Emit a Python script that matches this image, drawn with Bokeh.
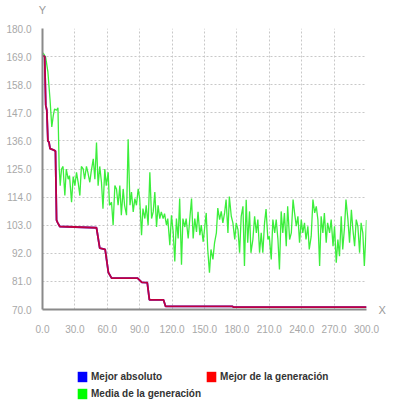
from bokeh.plotting import figure
from bokeh.models import (Range1d, FixedTicker, PrintfTickFormatter,
                          LinearAxis, Legend, LegendItem)
from bokeh.layouts import column
from bokeh.embed import file_html
from bokeh.resources import INLINE

# ---- data ----
x_ticks = [0, 30, 60, 90, 120, 150, 180, 210, 240, 270, 300]
y_ticks = [70, 81, 92, 103, 114, 125, 136, 147, 158, 169, 180]

# Mejor de la generacion (step-like)
best_gen = [0, 2, 3, 4, 5, 6, 7, 10, 12, 13, 14, 16, 50, 53, 58, 61, 64, 88,
            92, 97, 99, 112, 114, 176, 177, 300]
best_val = [169.4, 169, 150, 148, 136, 135.5, 133, 132.5, 132, 105, 104,
            102.5, 102, 94, 93.5, 84.5, 82.3, 82.3, 80.6, 80.5, 73.8, 73.8,
            71.2, 71.2, 70.9, 70.9]

# Mejor absoluto (same trajectory, drawn underneath)
abs_gen = [0, 2, 3, 4, 5, 6, 7, 10, 12, 13, 14, 16, 50, 53, 58, 61, 64, 88,
           92, 97, 99, 112, 114, 176, 177, 300]
abs_val = [169.4, 169, 150, 148, 136, 135.5, 133, 132.5, 132, 105, 104,
           102.5, 102, 94, 93.5, 84.5, 82.3, 82.3, 80.6, 80.5, 73.8, 73.8,
           71.2, 71.2, 70.9, 70.9]

# Media de la generacion, first half
media_gen_a = [0, 1.5, 3, 5, 7, 8.6, 10, 11.2, 13, 14.3, 15.4, 16.4, 17.6, 19,
               20.7, 22, 23.8, 25, 26.9, 28.4, 30, 31.5, 33, 34.6, 36, 37.7,
               39, 40.7, 42, 43.8, 45, 47, 48.5, 50, 51.5, 53, 54.6, 56, 57.7,
               59, 60.8, 62, 63.9, 65.4, 67, 68.5, 70, 71.6, 73, 74.7, 76,
               77.8, 79.3, 81, 82.4, 84, 85.5, 87, 88.6, 90, 91.7, 93, 94.8,
               96, 97.8, 99.4, 101, 102.5, 104, 105.6, 107, 108.6, 110, 111.7,
               113, 114.8, 116, 117.9, 119.4, 121, 122.5, 124, 125.6, 127,
               128.7, 130, 131.8, 133, 134.9, 136.4, 138, 139.5, 141, 142.6,
               144, 145.7, 147, 148.8]
media_val_a = [170.5, 169.8, 168.5, 163, 152, 141.5, 146, 148.5, 148, 149,
               126, 118.5, 125, 126, 114.6, 125, 121, 122.4, 112, 122, 118.5,
               123.7, 119.8, 114.6, 126, 125, 121, 126, 123.7, 119.8, 123.7,
               129, 121, 135.4, 118.5, 126, 119.8, 109.5, 125, 118.5, 123.7,
               110.8, 112, 103, 118.5, 117.2, 110.8, 118.5, 106.9, 117.2,
               110.8, 106.9, 136.6, 110.8, 116, 108.2, 113.4, 110.8, 117.2,
               113.4, 99.1, 109.5, 105.6, 110.8, 103, 123.7, 105.6, 108.2, 116,
               102.3, 110.8, 105.6, 108.2, 105.6, 107.5, 103, 105.6, 95.2,
               106.9, 100.4, 88.8, 105.6, 97.8, 113.4, 87.5, 105.6, 102.3,
               105.6, 97.8, 105.6, 113.4, 97.8, 105.6, 100.4, 108.2, 99.1, 103,
               96.5]

# Media de la generacion, second half
media_gen_b = [150, 151.6, 153, 154.6, 156, 157.8, 159.3, 161, 162.3, 164,
               165.5, 167, 168.6, 170, 171.7, 173, 174.8, 176.3, 178, 179.4,
               181, 182.5, 184, 185.6, 187, 188.6, 190, 191.7, 193, 194.8,
               196.4, 198, 199.4, 201, 202.5, 204, 205.6, 207, 208.7, 210,
               211.8, 213.3, 215, 216.4, 218, 219.4, 221, 222.5, 224, 225.7,
               227, 228.8, 230.4, 232, 233.4, 235, 236.5, 238, 239.6, 241,
               242.6, 244, 245.7, 247, 248.8, 250.4, 252, 253.5, 255, 256.6,
               258, 259.6, 261, 262.7, 264, 265.8, 267.3, 269, 270.4, 272,
               273.5, 275, 276.6, 278, 279.7, 281, 282.8, 284.3, 286, 287.4,
               289, 290.5, 292, 293.6, 295, 296.6, 298, 299.5, 300]
media_val_b = [106.5, 107.8, 93.5, 84.4, 93.5, 89.6, 96.1, 100, 109.7, 105.2,
               108.4, 103.9, 107.8, 113, 100, 114.2, 106.5, 103.9, 97.4, 103.9,
               101.3, 92.2, 106.5, 110.4, 87, 113, 96.1, 108.4, 92.2, 97.4,
               106.5, 100, 105.2, 92.2, 100, 92.2, 103.9, 109.3, 97.4, 98.7,
               89.6, 105.2, 100, 105.2, 97.4, 85.7, 108.4, 100, 107.8, 94.8,
               110.4, 97.4, 100, 113, 107.8, 102.6, 106.5, 96.1, 105.2, 100,
               103.9, 97.4, 102.6, 93.5, 98.7, 113, 107.8, 110.4, 105.2, 87,
               106.5, 100, 107.8, 96.1, 103.9, 100, 105.2, 94.8, 102.6, 88.3,
               97.4, 90.9, 106.5, 93.5, 102.6, 113, 105.2, 96.1, 109, 101.3,
               94.8, 105.2, 102.6, 92.2, 103.9, 100, 87, 100, 105]

legend_labels = ["Mejor absoluto", "Mejor de la generación",
                 "Media de la generación"]

FONT = "Liberation Sans"

p = figure(width=406, height=340, output_backend="svg", toolbar_location=None,
           x_range=Range1d(0, 300), y_range=Range1d(70, 180),
           min_border_left=42, min_border_right=40, min_border_top=25,
           min_border_bottom=31)
p.outline_line_color = None
p.background_fill_color = "white"
p.border_fill_color = "white"

for ax in (p.xaxis[0], p.yaxis[0]):
    ax.axis_line_color = "#8a8a8a"
    ax.axis_line_width = 2
    ax.major_tick_line_color = None
    ax.minor_tick_line_color = None
    ax.major_label_text_color = "#a8a8a8"
    ax.major_label_text_font = FONT
    ax.major_label_text_font_size = "10px"

p.xaxis.ticker = FixedTicker(ticks=x_ticks)
p.yaxis.ticker = FixedTicker(ticks=y_ticks)
p.xaxis.formatter = PrintfTickFormatter(format="%.1f")
p.yaxis.formatter = PrintfTickFormatter(format="%.1f")
p.xaxis.major_label_standoff = 9
p.yaxis.major_label_standoff = 5

# axis name letters drawn as single tick labels on extra axes
y_name_axis = LinearAxis(ticker=FixedTicker(ticks=[0]),
                         major_label_overrides={0: "Y"})
x_name_axis = LinearAxis(ticker=FixedTicker(ticks=[70]),
                         major_label_overrides={70: "X"})
for ax in (y_name_axis, x_name_axis):
    ax.axis_line_color = None
    ax.major_tick_line_color = None
    ax.minor_tick_line_color = None
    ax.major_label_text_color = "#999999"
    ax.major_label_text_font = FONT
    ax.major_label_text_font_size = "11px"
y_name_axis.major_label_standoff = 7
x_name_axis.major_label_standoff = 6
p.add_layout(y_name_axis, "above")
p.add_layout(x_name_axis, "right")

for g in (p.xgrid[0], p.ygrid[0]):
    g.grid_line_color = "#c8c8c8"
    g.grid_line_dash = "2 2"
    g.grid_line_width = 1

media_gen = media_gen_a + media_gen_b[1:]
media_val = media_val_a + media_val_b[1:]

p.line(media_gen, media_val, line_color="#3cee3c", line_width=1.3)
p.line(abs_gen, abs_val, line_color="#0000ff", line_width=1.8)
p.line(best_gen, best_val, line_color="#ff0000", line_width=1.8, line_alpha=0.75)

# ---- legend strip ----
p2 = figure(width=406, height=60, output_backend="svg", toolbar_location=None,
            x_range=Range1d(0, 1), y_range=Range1d(0, 1),
            x_axis_location=None, y_axis_location=None, min_border=0)
p2.outline_line_color = None
p2.grid.visible = False

nan = float("nan")
r_blue = p2.quad(left=[nan], right=[nan], top=[nan], bottom=[nan],
                 fill_color="#0000ff", line_color=None)
r_red = p2.quad(left=[nan], right=[nan], top=[nan], bottom=[nan],
                fill_color="#ff0000", line_color=None)
r_green = p2.quad(left=[nan], right=[nan], top=[nan], bottom=[nan],
                  fill_color="#00ff00", line_color=None)

legend = Legend(items=[LegendItem(label=legend_labels[0], renderers=[r_blue]),
                       LegendItem(label=legend_labels[1], renderers=[r_red]),
                       LegendItem(label=legend_labels[2], renderers=[r_green])],
                orientation="horizontal", ncols=2,
                location=(34, 0))
legend.glyph_width = 12
legend.glyph_height = 13
legend.label_standoff = 3
legend.spacing = 4
legend.padding = 0
legend.margin = 0
legend.border_line_color = None
legend.background_fill_alpha = 0
legend.label_text_font = FONT
legend.label_text_font_style = "bold"
legend.label_text_font_size = "10px"
legend.label_text_color = "#333333"
legend.label_height = 13
p2.add_layout(legend, "center")

open("out.html", "w").write(file_html(column(p, p2), INLINE))
